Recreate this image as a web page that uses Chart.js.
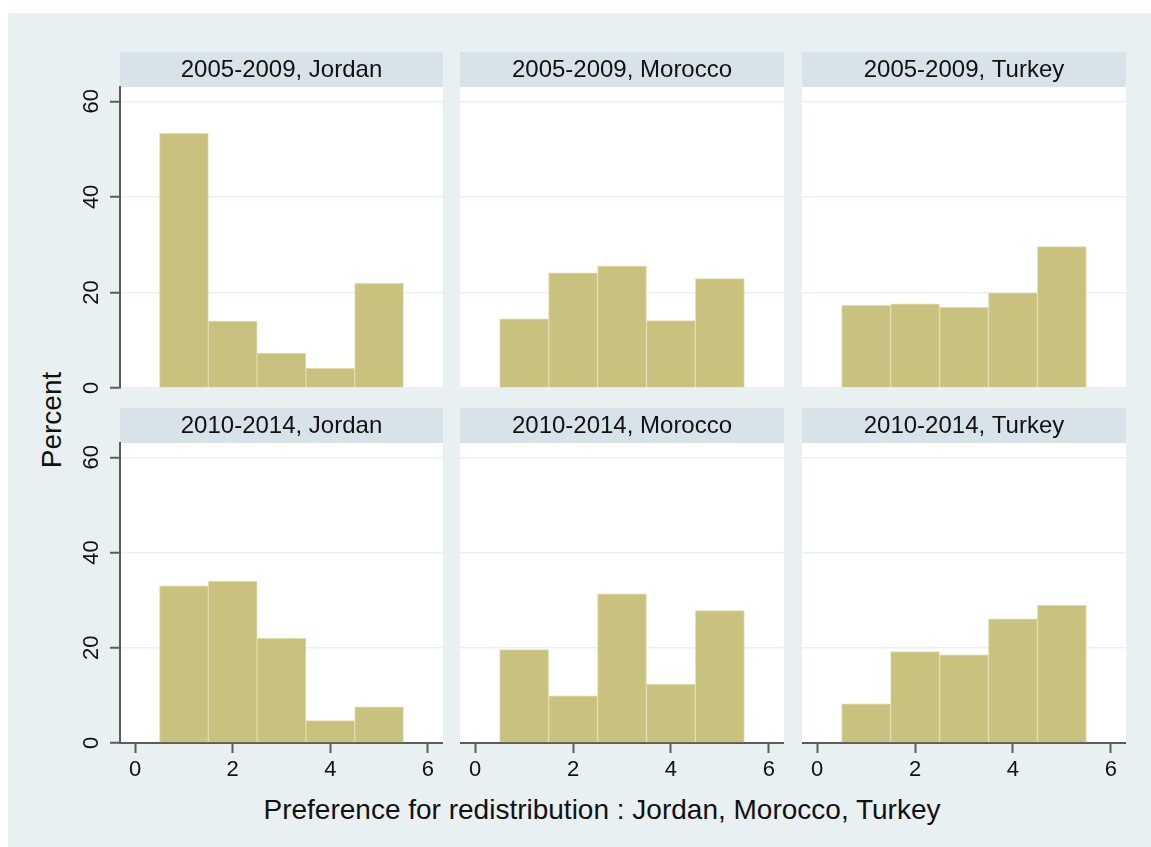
<!DOCTYPE html>
<html>
<head>
<meta charset="utf-8">
<script src="https://cdn.jsdelivr.net/npm/chart.js@4"></script>
<style>
html, body { margin: 0; padding: 0; background: #ffffff; }
#frame { position: absolute; left: 8px; top: 13px; width: 1143px; height: 834px; background: #e9f0f2; }
canvas { position: absolute; }
.ttl { position: absolute; font-family: "Liberation Sans", Arial, sans-serif; font-size: 28px; color: #111; white-space: nowrap; }
#ytitle { left: 52px; top: 420px; transform: translate(-50%, -50%) rotate(-90deg); }
#xtitle { left: 602px; top: 810px; transform: translate(-50%, -50%); }
</style>
</head>
<body>
<div id="frame"></div>
<div class="ttl" id="ytitle">Percent</div>
<div class="ttl" id="xtitle">Preference for redistribution : Jordan, Morocco, Turkey</div>
<canvas id="c0"></canvas>
<canvas id="c1"></canvas>
<canvas id="c2"></canvas>
<canvas id="c3"></canvas>
<canvas id="c4"></canvas>
<canvas id="c5"></canvas>
<script>
// histogram bins (bar centres) and percent per bin
const bins = [1, 2, 3, 4, 5];
const jordan0509 = [53.3, 14.0, 7.3, 4.1, 21.9];
const morocco0509 = [14.5, 24.1, 25.5, 14.1, 22.9];
const turkey0509 = [17.3, 17.6, 16.9, 19.9, 29.6];
const jordan1014 = [33.0, 34.0, 22.0, 4.7, 7.6];
const morocco1014 = [19.6, 9.9, 31.3, 12.3, 27.8];
const turkey1014 = [8.2, 19.2, 18.5, 26.1, 28.9];

const panelTitles = [
    '2005-2009, Jordan', '2005-2009, Morocco', '2005-2009, Turkey',
    '2010-2014, Jordan', '2010-2014, Morocco', '2010-2014, Turkey'
];
const panelValues = [jordan0509, morocco0509, turkey0509, jordan1014, morocco1014, turkey1014];
const yTicks = [0, 20, 40, 60];
const xTicks = [0, 2, 4, 6];

const FONT = '"Liberation Sans", Arial, sans-serif';
const axisColor = '#5c5c5c';

// panel geometry
const areaLeft = [120, 460, 802];
const areaRight = [443, 784, 1126];
const headerTop = [52, 408];
const plotBottom = [388, 743];
const xAxisH = 45;
const topRowPad = 15; // room for the "0" label under the top row

const headerBg = {
    id: 'headerBg',
    beforeDraw(chart) {
        const ctx = chart.ctx;
        const t = chart.titleBlock;
        const a = chart.chartArea;
        ctx.save();
        ctx.fillStyle = '#d8e3e9';
        ctx.fillRect(t.left, t.top, t.width, t.height);
        ctx.fillStyle = '#ffffff';
        ctx.fillRect(a.left, a.top, a.right - a.left, a.bottom - a.top);
        ctx.restore();
    }
};

for (let i = 0; i < 6; i++) {
    const row = Math.floor(i / 3);
    const col = i % 3;
    const yw = col === 0 ? 60 : 0;
    const left = areaLeft[col] - yw;
    const width = areaRight[col] - left;
    const top = headerTop[row];
    const extra = row === 1 ? xAxisH : topRowPad;
    const height = plotBottom[row] - top + extra;

    const cv = document.getElementById('c' + i);
    cv.width = width;
    cv.height = height;
    cv.style.left = left + 'px';
    cv.style.top = top + 'px';

    new Chart(cv, {
        type: 'bar',
        data: {
            datasets: [{
                data: bins.map((b, k) => ({x: b, y: panelValues[i][k]})),
                backgroundColor: '#c9c27e',
                borderColor: '#e0dbad',
                borderWidth: 1,
                barPercentage: 1,
                categoryPercentage: 1,
            }]
        },
        options: {
            responsive: false,
            animation: false,
            layout: {
                autoPadding: false,
                padding: {top: 0, left: 0, right: 0, bottom: row === 0 ? topRowPad : 0},
            },
            scales: {
                x: {
                    type: 'linear',
                    min: -0.31,
                    max: 6.31,
                    offset: false,
                    display: row === 1,
                    afterFit: (s) => {
                        s.height = row === 1 ? xAxisH : 0;
                        s.paddingLeft = 0;
                        s.paddingRight = 0;
                    },
                    border: {
                        color: axisColor,
                        width: 2,
                    },
                    grid: {
                        offset: false,
                        drawOnChartArea: false,
                        tickLength: 10,
                        tickColor: axisColor,
                        tickWidth: 2,
                    },
                    afterBuildTicks: (s) => { s.ticks = xTicks.map(v => ({value: v})); },
                    ticks: {
                        padding: 4,
                        color: '#111',
                        maxRotation: 0,
                        font: {family: FONT, size: 22},
                    },
                },
                y: {
                    min: 0,
                    max: 63,
                    afterFit: (s) => {
                        s.width = yw;
                        s.paddingTop = 0;
                        s.paddingBottom = 0;
                    },
                    afterBuildTicks: (s) => { s.ticks = yTicks.map(v => ({value: v})); },
                    border: {
                        display: col === 0,
                        color: axisColor,
                        width: 2,
                    },
                    grid: {
                        color: '#e9f1f3',
                        lineWidth: 1.5,
                        drawTicks: col === 0,
                        tickLength: 10,
                        tickColor: axisColor,
                        tickWidth: 2,
                    },
                    ticks: {
                        display: col === 0,
                        minRotation: 90,
                        maxRotation: 90,
                        crossAlign: 'center',
                        padding: 6,
                        color: '#111',
                        font: {family: FONT, size: 22},
                    },
                },
            },
            plugins: {
                legend: {
                    display: false,
                },
                tooltip: {
                    enabled: false,
                },
                title: {
                    display: true,
                    text: panelTitles[i],
                    fullSize: false,
                    color: '#111',
                    font: {family: FONT, size: 24, weight: 'normal', lineHeight: 1.2},
                    padding: {top: 4, bottom: 2.2},
                },
            },
        },
        plugins: [headerBg],
    });
}
</script>
</body>
</html>
